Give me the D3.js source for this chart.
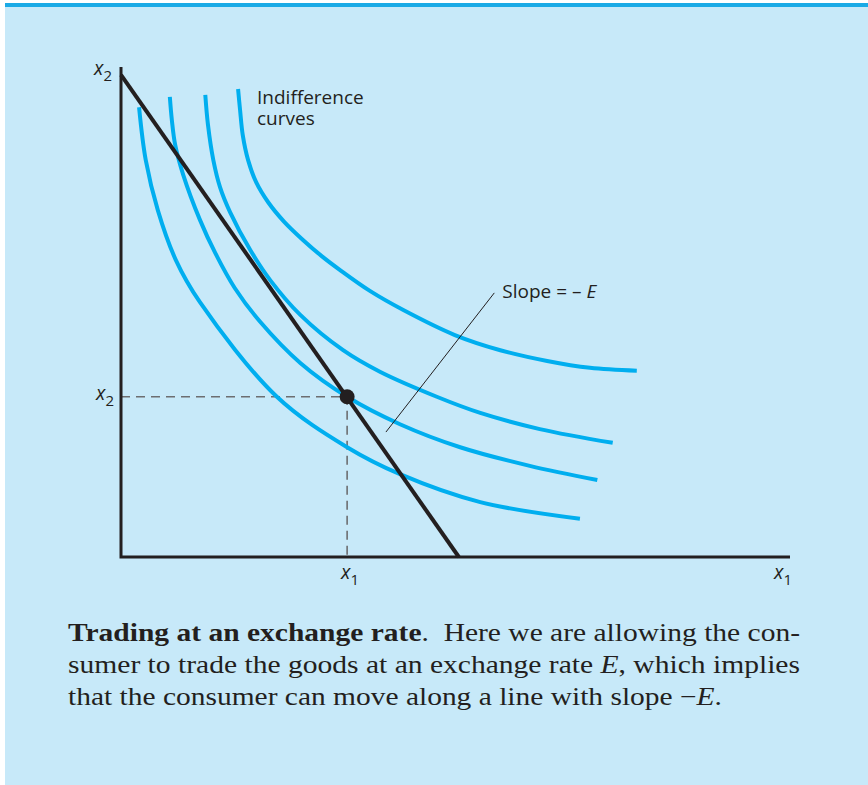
<!DOCTYPE html>
<html>
<head>
<meta charset="utf-8">
<script src="https://cdn.jsdelivr.net/npm/d3@7"></script>
<style>
  html, body { margin: 0; padding: 0; background: #fff; }
  svg { display: block; }
</style>
</head>
<body>
<svg id="chart" width="868" height="785"></svg>
<script>
// indifference curves (x1, x2 in chart units 0..10)
const curve1 = [[0.27,9.18],[0.37,8.10],[0.55,7.08],[0.82,6.06],[1.18,5.20],[2.33,3.27],[3.38,2.24],[4.17,1.69],[5.37,1.12],[6.86,0.78]]
const curve2 = [[0.73,9.39],[0.76,8.92],[0.81,8.41],[0.93,7.80],[1.18,6.88],[1.41,6.20],[1.70,5.49],[2.08,4.80],[2.68,3.96],[3.38,3.27],[4.17,2.71],[5.07,2.24],[6.11,1.86],[7.12,1.57]]
const curve3 = [[1.26,9.43],[1.30,8.82],[1.38,8.10],[1.48,7.55],[1.63,7.04],[1.93,6.27],[2.23,5.65],[2.68,4.94],[3.32,4.22],[3.87,3.78],[4.72,3.27],[5.37,2.94],[6.26,2.61],[7.35,2.33]]
const curve4 = [[1.75,9.55],[1.78,9.12],[1.82,8.61],[1.90,8.10],[2.02,7.65],[2.20,7.24],[2.44,6.84],[2.72,6.47],[3.00,6.14],[3.27,5.86],[3.72,5.43],[4.22,5.04],[4.99,4.53],[5.67,4.22],[6.37,4.00],[7.01,3.86],[7.71,3.80]]
const curves = [curve1, curve2, curve3, curve4]

// budget line with slope -E, and the endowment point on it
const budget = [[0, 9.84], [5.05, 0]]
const endowment = [3.38, 3.27]
const leader = [[3.96, 2.55], [5.58, 5.39]]

const axisMax = [10, 10]
const captionLines = [
  [{t: "Trading at an exchange rate", w: "bold"}, {t: ".  Here we are allowing the con-"}],
  [{t: "sumer to trade the goods at an exchange rate "}, {t: "E", s: "italic"}, {t: ", which implies"}],
  [{t: "that the consumer can move along a line with slope \u2212"}, {t: "E", s: "italic"}, {t: "."}]
]

const ink = "#231f20"
const cyan = "#00aeef"
const svg = d3.select("#chart")

// panel background + top rule
svg.append("rect").attr("x", 5).attr("y", 6).attr("width", 863).attr("height", 779).attr("fill", "#c7e9f9")
svg.append("rect").attr("x", 5).attr("y", 3).attr("width", 863).attr("height", 4).attr("fill", "#1aaae6")

const x = d3.scaleLinear().domain([0, axisMax[0]]).range([121, 790])
const y = d3.scaleLinear().domain([0, axisMax[1]]).range([557, 67])

const line = d3.line().x(d => x(d[0])).y(d => y(d[1]))
const smooth = d3.line().x(d => x(d[0])).y(d => y(d[1])).curve(d3.curveCatmullRom.alpha(0.5))

// dashed guides to the endowment
svg.append("path")
  .datum([[0, endowment[1]], endowment, [endowment[0], 0]])
  .attr("fill", "none").attr("stroke", "#6d6e71").attr("stroke-width", 1.6)
  .attr("stroke-dasharray", "9,6").attr("d", line)

for (var i = 0; i < curves.length; i++) {
  svg.append("path")
    .datum(curves[i])
    .attr("fill", "none")
    .attr("stroke", cyan)
    .attr("stroke-width", 4)
    .attr("d", smooth)
}

// axes
svg.append("path")
  .datum([[0, axisMax[1]], [0, 0], [axisMax[0], 0]])
  .attr("fill", "none").attr("stroke", ink).attr("stroke-width", 3)
  .attr("stroke-linejoin", "miter").attr("d", line)

svg.append("path").datum(budget)
  .attr("fill", "none").attr("stroke", ink).attr("stroke-width", 4).attr("d", line)

svg.append("circle")
  .attr("cx", x(endowment[0])).attr("cy", y(endowment[1])).attr("r", 7.5).attr("fill", ink)

svg.append("path").datum(leader)
  .attr("fill", "none").attr("stroke", ink).attr("stroke-width", 1).attr("d", line)

// labels
const sans = "'Open Sans', 'Noto Sans', sans-serif"
function varLabel(px, py, sub) {
  const t = svg.append("text").attr("x", px).attr("y", py)
    .attr("font-family", sans).attr("font-size", 19.5).attr("fill", ink)
  t.append("tspan").attr("font-style", "italic").text("x")
  t.append("tspan").attr("font-size", 15).attr("dy", 6).text(sub)
}
varLabel(x(0) - 27, y(axisMax[1] * 0.984), "2")
varLabel(x(0) - 25, y(endowment[1]) + 3, "2")
varLabel(x(endowment[0]) - 6, y(0) + 22, "1")
varLabel(x(axisMax[0]) - 16, y(0) + 22, "1")

svg.append("text").attr("x", 257).attr("y", 104)
  .attr("font-family", sans).attr("font-size", 19).attr("fill", ink).text("Indifference")
svg.append("text").attr("x", 257).attr("y", 125)
  .attr("font-family", sans).attr("font-size", 19).attr("fill", ink).text("curves")

const slope = svg.append("text")
  .attr("x", x(leader[1][0]) + 8).attr("y", y(leader[1][1]) + 5)
  .attr("font-family", sans).attr("font-size", 19).attr("fill", ink)
slope.append("tspan").text("Slope = \u2013 ")
slope.append("tspan").attr("font-style", "italic").text("E")

// caption
const capWidths = [732, 732, 654]
captionLines.forEach((parts, li) => {
  const t = svg.append("text")
    .attr("x", 68).attr("y", 641 + li * 32)
    .attr("font-family", "'Liberation Serif', 'Times New Roman', serif")
    .attr("font-size", 25.5).attr("fill", ink)
    .attr("textLength", capWidths[li]).attr("lengthAdjust", "spacingAndGlyphs")
  parts.forEach(p => {
    t.append("tspan")
      .attr("font-weight", p.w || "normal")
      .attr("font-style", p.s || "normal")
      .attr("xml:space", "preserve")
      .text(p.t)
  })
})
</script>
</body>
</html>
